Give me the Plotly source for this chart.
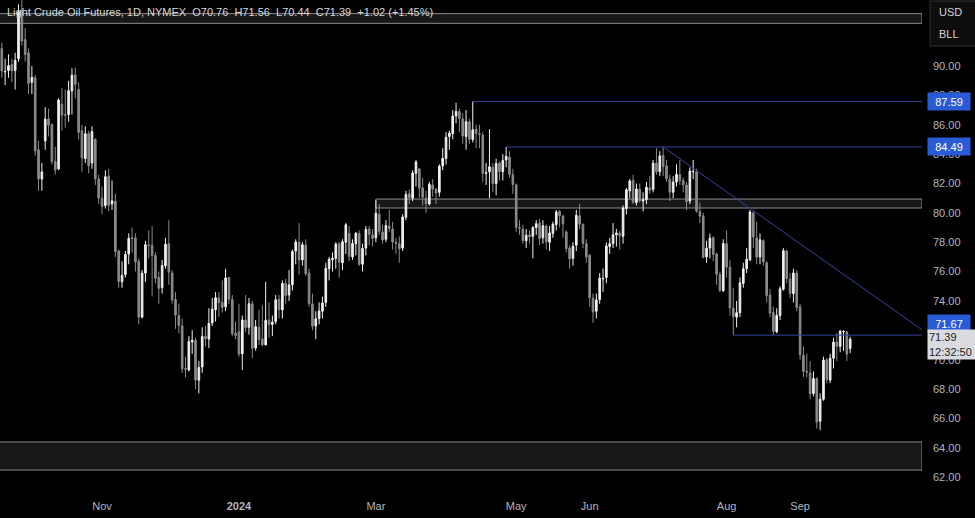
import pandas as pd
import plotly.graph_objects as go

# ---------------- data ----------------
holidays = ["2023-11-23", "2023-12-25", "2024-01-01", "2024-01-15", "2024-02-19",
            "2024-03-29", "2024-05-27", "2024-06-19", "2024-07-04", "2024-09-02"]
dates = pd.bdate_range("2023-09-20", "2024-09-24", freq="C",
                       holidays=holidays).strftime("%Y-%m-%d").tolist()

open_ = [
    91.2, 89.6, 89.7, 90.1, 89.7, 90.5, 93.8, 91.8,
    90.9, 88.9, 89.2, 84.3, 82.3, 84.9, 86.4, 86.0, 83.5, 83.0, 87.4, 86.7, 86.7, 88.3, 89.4, 88.4, 85.6, 83.7, 85.4, 83.4, 85.0, 82.3,
    81.0, 80.5, 82.5, 80.6, 80.8, 77.4, 75.3, 75.8, 77.2, 78.3, 78.3, 76.7, 72.9, 75.9, 77.8, 77.8, 77.1, 75.6, 74.9, 76.4, 77.9,
    75.9, 74.1, 73.0, 72.3, 69.4, 69.3, 71.2, 71.3, 68.6, 69.5, 71.6, 71.4, 72.5, 73.4, 74.2, 73.9, 73.6, 75.6, 74.1, 71.8,
    71.9, 70.4, 72.7, 72.2, 73.8, 70.8, 72.2, 71.4, 71.0, 72.7, 72.4, 72.6, 74.1, 73.4, 75.2, 74.4, 75.1, 77.4, 78.0, 76.8, 77.8,
    75.9, 73.8, 72.3, 72.8, 73.3, 73.9, 76.2, 76.8, 76.9, 77.9, 76.6, 78.0, 78.6, 77.0, 77.9, 78.6, 76.5, 77.6, 78.9, 78.5,
    78.3, 79.9, 78.7, 78.2, 79.1, 78.9, 78.0, 77.9, 77.6, 79.7, 81.3, 81.0, 82.7, 83.0, 81.7, 81.0, 80.6, 81.9, 81.6, 81.4,
    83.2, 83.7, 85.2, 85.4, 86.6, 86.9, 86.4, 85.2, 86.2, 85.0, 85.7, 85.4, 85.3, 82.7, 82.8, 83.1, 82.0, 83.4, 82.8, 83.6, 83.8, 82.6,
    81.9, 79.0, 78.9, 78.1, 78.5, 78.4, 79.0, 79.3, 78.3, 79.1, 78.0, 78.6, 79.2, 80.1, 79.8, 78.7, 77.6, 76.9, 77.8, 79.8, 79.2, 77.9,
    77.1, 74.2, 73.3, 74.1, 75.5, 75.6, 77.7, 77.9, 78.5, 78.6, 78.4, 80.3, 81.5, 82.2, 80.7, 81.6, 80.8, 80.9, 81.7,
    81.6, 83.4, 82.8, 83.9, 83.2, 82.3, 81.4, 82.1, 82.6, 82.2, 81.9, 80.8, 82.8, 82.8, 80.1, 79.8, 77.0, 77.6, 78.3, 77.2, 75.8, 74.7,
    77.9, 76.3, 73.5, 72.9, 73.2, 75.2, 76.2, 76.8, 80.0, 78.3, 77.0, 78.1, 76.6, 74.4, 73.2, 71.9, 73.0, 74.8, 77.4, 75.5, 74.5, 75.9,
    73.6, 70.3, 69.2, 69.1, 67.7, 68.7, 65.8, 67.3, 70.0, 68.6, 70.1, 71.2, 70.9, 71.9, 71.9, 70.76,
]
high = [
    91.6, 90.5, 90.8, 90.5, 90.9, 94.2, 95.0, 92.6,
    91.2, 90.0, 89.4, 84.9, 83.4, 87.2, 87.1, 86.1, 84.5, 87.8, 88.5, 88.4, 89.0, 89.85, 89.9, 88.9, 86.0, 85.9, 85.6, 85.9, 85.1, 82.6,
    81.8, 82.9, 83.0, 82.2, 81.3, 77.5, 76.7, 77.4, 78.6, 79.0, 78.6, 76.9, 76.1, 78.1, 78.8, 79.1, 77.3, 76.0, 76.8, 78.3, 79.5,
    76.1, 74.6, 73.8, 72.8, 70.2, 71.6, 72.0, 71.5, 69.9, 72.2, 72.3, 73.5, 74.2, 74.6, 74.6, 75.4, 76.2, 75.6, 74.4, 72.6,
    73.8, 73.0, 74.4, 74.2, 74.0, 72.7, 73.4, 73.7, 75.3, 73.9, 73.0, 74.4, 74.4, 75.4, 75.5, 76.1, 77.5, 78.2, 79.3, 78.0, 78.2,
    76.2, 74.5, 73.3, 73.9, 74.3, 76.6, 77.0, 77.3, 78.0, 78.0, 78.2, 79.3, 79.1, 78.2, 78.7, 78.8, 77.9, 79.1, 79.1, 78.9,
    80.85, 80.6, 79.2, 79.5, 80.2, 79.4, 78.3, 78.4, 79.9, 81.5, 81.6, 82.9, 83.6, 83.0, 82.4, 81.5, 82.1, 82.3, 81.7, 83.3,
    84.4, 85.5, 85.6, 87.0, 87.5, 87.1, 86.8, 87.0, 86.4, 87.59, 86.0, 86.0, 85.5, 83.4, 85.7, 83.4, 83.7, 83.5, 84.0, 84.49, 84.2, 83.0,
    82.0, 79.5, 79.2, 78.9, 78.8, 79.1, 79.5, 79.6, 79.5, 79.2, 79.1, 79.4, 80.2, 80.2, 79.8, 78.8, 77.8, 78.0, 80.2, 80.6, 79.3, 78.2,
    77.2, 74.5, 74.5, 75.9, 76.2, 78.0, 78.3, 79.3, 78.9, 78.8, 80.5, 81.7, 82.3, 82.6, 82.0, 82.0, 81.4, 82.1, 82.5,
    83.6, 84.4, 84.2, 84.49, 83.6, 82.6, 82.5, 83.3, 83.6, 82.4, 82.1, 83.1, 83.6, 83.0, 80.7, 80.0, 78.1, 78.6, 78.4, 77.3, 76.0, 78.2,
    78.8, 76.8, 74.9, 74.0, 75.6, 76.6, 77.6, 80.2, 80.1, 79.4, 78.6, 78.2, 76.7, 74.8, 73.6, 73.5, 75.0, 77.6, 77.5, 75.9, 76.2, 76.1,
    73.8, 70.9, 70.4, 69.9, 69.2, 68.8, 67.7, 70.2, 70.1, 70.4, 71.5, 71.8, 72.0, 72.0, 71.9, 71.56,
]
low = [
    89.2, 88.7, 89.2, 88.9, 88.4, 90.3, 91.4, 90.3,
    88.1, 88.1, 83.9, 81.5, 81.5, 84.3, 85.2, 83.3, 82.6, 82.9, 85.6, 85.8, 86.2, 86.7, 87.8, 85.0, 82.8, 83.4, 82.7, 83.0, 81.9, 80.6,
    79.9, 80.3, 80.1, 80.2, 77.0, 74.9, 74.9, 75.6, 76.5, 77.3, 76.0, 72.4, 72.8, 75.3, 76.9, 74.3, 75.2, 73.8, 74.5, 76.2, 75.1,
    73.8, 72.1, 71.8, 69.1, 68.8, 69.2, 70.4, 68.0, 67.7, 69.1, 70.9, 70.8, 72.3, 72.6, 72.9, 73.2, 73.3, 73.8, 71.6, 71.4,
    70.2, 69.3, 71.9, 71.7, 70.1, 70.6, 71.0, 70.9, 71.0, 71.5, 71.6, 72.4, 72.8, 72.8, 73.8, 74.0, 74.7, 76.5, 75.8, 76.4, 75.7,
    73.6, 72.0, 71.4, 72.4, 72.8, 73.6, 75.4, 76.0, 76.2, 75.6, 76.1, 77.2, 76.7, 76.8, 77.1, 76.4, 76.0, 77.1, 77.8, 77.7,
    78.0, 78.5, 77.9, 78.0, 78.7, 77.5, 77.2, 76.6, 77.4, 79.5, 80.6, 80.8, 81.8, 81.0, 80.5, 80.0, 80.5, 81.1, 80.6, 81.1,
    82.9, 83.3, 84.3, 85.0, 86.1, 85.5, 84.7, 84.3, 84.7, 84.8, 84.4, 84.4, 82.1, 81.9, 81.0, 81.4, 81.2, 82.2, 82.2, 83.1, 82.4, 81.3,
    78.7, 78.5, 77.9, 77.6, 77.9, 76.9, 78.5, 77.8, 77.9, 77.5, 77.4, 78.3, 78.8, 79.0, 78.3, 77.3, 76.2, 76.4, 77.4, 78.9, 77.6, 76.6,
    73.6, 72.5, 72.8, 73.8, 74.6, 75.2, 77.2, 77.6, 77.7, 77.5, 77.9, 79.9, 81.0, 80.6, 80.5, 80.7, 80.1, 80.6, 81.3,
    81.4, 82.6, 82.5, 82.5, 82.1, 80.8, 81.0, 81.8, 81.9, 81.4, 80.2, 80.6, 82.3, 80.0, 79.3, 76.9, 76.6, 76.9, 76.7, 75.1, 74.6, 74.6,
    75.6, 73.0, 71.67, 72.2, 72.9, 74.9, 75.9, 76.7, 77.6, 76.5, 76.5, 76.4, 73.9, 72.9, 71.7, 71.8, 72.7, 74.7, 75.2, 74.2, 73.9, 73.3,
    70.0, 68.8, 68.8, 67.3, 67.5, 65.3, 65.2, 67.2, 68.4, 68.4, 69.4, 69.9, 70.5, 70.6, 69.9, 70.44,
]
close = [
    89.66, 89.63, 90.03, 89.68, 90.39, 93.68, 91.71, 90.79,
    88.82, 89.23, 84.22, 82.31, 82.79, 86.38, 85.97, 83.49, 82.91, 87.69, 86.66, 86.66, 88.32, 89.37, 88.75, 85.49, 83.74, 85.39, 83.21, 85.54, 82.31, 81.02,
    80.44, 82.46, 80.51, 80.82, 77.37, 75.33, 75.74, 77.17, 78.26, 78.26, 76.66, 72.90, 75.89, 77.83, 77.77, 77.10, 75.54, 74.86, 76.41, 77.86, 75.96,
    74.07, 73.04, 72.32, 69.38, 69.34, 71.23, 71.32, 68.61, 69.47, 71.58, 71.43, 72.47, 73.44, 74.22, 73.89, 73.56, 75.57, 74.11, 71.77, 71.65,
    70.38, 72.70, 72.19, 73.81, 70.77, 72.24, 71.37, 71.02, 72.68, 72.40, 72.56, 74.08, 73.41, 75.19, 74.37, 75.09, 77.36, 78.01, 76.78, 77.82, 75.85,
    73.82, 72.28, 72.78, 73.31, 73.86, 76.22, 76.84, 76.92, 77.87, 76.64, 78.03, 79.19, 77.04, 77.91, 78.61, 76.49, 77.58, 78.87, 78.54, 78.26,
    79.97, 78.74, 78.15, 79.13, 78.93, 78.01, 77.93, 77.56, 79.72, 81.26, 81.04, 82.72, 83.47, 81.68, 81.07, 80.63, 81.95, 81.62, 81.35, 83.17,
    83.71, 85.15, 85.43, 86.59, 86.91, 86.43, 85.23, 86.21, 85.02, 85.66, 85.41, 85.36, 82.69, 82.73, 83.14, 82.00, 83.36, 82.81, 83.57, 83.85, 82.63, 81.93,
    79.00, 78.95, 78.11, 78.48, 78.38, 78.99, 79.26, 78.26, 79.12, 78.02, 78.63, 79.23, 80.06, 79.80, 79.26, 77.57, 76.87, 77.72, 79.83, 79.23, 77.91, 76.99,
    74.22, 73.25, 74.07, 75.55, 75.53, 77.74, 77.90, 78.50, 78.62, 78.45, 80.33, 81.57, 82.17, 80.73, 81.63, 80.83, 80.90, 81.74, 81.54,
    83.38, 82.81, 83.88, 83.16, 82.33, 81.41, 82.10, 82.62, 82.21, 81.91, 80.76, 82.85, 82.82, 80.13, 79.78, 76.96, 77.59, 78.28, 77.16, 75.81, 74.73, 77.91,
    76.31, 73.52, 72.94, 73.20, 75.23, 76.19, 76.84, 80.06, 78.35, 76.98, 78.16, 76.65, 74.37, 73.17, 71.93, 73.01, 74.83, 77.42, 75.53, 74.52, 75.91, 73.55,
    70.34, 69.20, 69.15, 67.67, 68.71, 65.75, 67.31, 69.97, 68.65, 70.09, 71.19, 70.91, 71.95, 71.92, 70.37, 71.39,
]

tick_dates = ["2023-11-01", "2024-01-02", "2024-03-01", "2024-05-01", "2024-06-03", "2024-08-01", "2024-09-03"]
tick_labels = ["Nov", "<b>2024</b>", "Mar", "May", "Jun", "Aug", "Sep"]
price_ticks = [62, 64, 66, 68, 70, 72, 74, 76, 78, 80, 82, 84, 86, 88, 90]

# horizontal levels (price, start date)
level_prices = [87.59, 84.49, 71.67]
level_starts = ["2024-04-12", "2024-04-26", "2024-08-05"]
# grey zones (low, high, start date or None = from left edge)
zone_lows = [92.91, 80.33, 62.48]
zone_highs = [93.57, 80.94, 64.39]
zone_starts = [None, "2024-03-01", None]
# descending trendline anchors
trend_dates = ["2024-07-05", "2024-08-13"]
trend_prices = [84.49, 80.15]

title_text = ("Light Crude Oil Futures, 1D, NYMEX&nbsp;&nbsp;O70.76&nbsp;&nbsp;H71.56&nbsp;&nbsp;"
              "L70.44&nbsp;&nbsp;C71.39&nbsp;&nbsp;+1.02 (+1.45%)")
last_price = 71.39
countdown = "12:32:50"

# ---------------- figure ----------------
FONT = "Liberation Sans"
UP = "#f0f0f0"
DOWN = "#8a8a8a"
BLUE_LINE = "#33449e"
BLUE_BOX = "#2a5bd7"
X_RANGE = [-0.54, 275.5]
Y_RANGE = [61.12, 94.50]

pos = {d: i for i, d in enumerate(dates)}
idx = list(range(len(dates)))

fig = go.Figure(go.Candlestick(
    x=idx, open=open_, high=high, low=low, close=close,
    increasing=dict(line=dict(color=UP, width=1), fillcolor=UP),
    decreasing=dict(line=dict(color=DOWN, width=1), fillcolor=DOWN),
    whiskerwidth=0, showlegend=False, hoverinfo="skip",
))

shapes = []
for lo, hi, st in zip(zone_lows, zone_highs, zone_starts):
    x0 = X_RANGE[0] - 5 if st is None else pos[st]
    shapes.append(dict(type="rect", xref="x", yref="y", x0=x0, x1=X_RANGE[1],
                       y0=lo, y1=hi, fillcolor="rgba(255,255,255,0.09)",
                       line=dict(color="#8c8c8c", width=1), layer="below"))
for p, st in zip(level_prices, level_starts):
    shapes.append(dict(type="line", xref="x", yref="y", x0=pos[st], x1=X_RANGE[1],
                       y0=p, y1=p, line=dict(color=BLUE_LINE, width=1)))
tx0, tx1 = pos[trend_dates[0]], pos[trend_dates[1]]
slope = (trend_prices[1] - trend_prices[0]) / (tx1 - tx0)
shapes.append(dict(type="line", xref="x", yref="y", x0=tx0, y0=trend_prices[0],
                   x1=X_RANGE[1], y1=trend_prices[0] + slope * (X_RANGE[1] - tx0),
                   line=dict(color=BLUE_LINE, width=1)))
# currency box (top right)
PH = 490.0
PW = 922.0
shapes.append(dict(type="rect", xref="paper", yref="paper",
                   x0=930 / PW, x1=980 / PW, y0=1 - 46 / PH, y1=1 - 1 / PH,
                   fillcolor="#0d0d0d", line=dict(color="#2e3139", width=1)))

annotations = [
    dict(text=title_text, xref="paper", yref="paper", x=0, y=1, xanchor="left",
         yanchor="middle", xshift=5, yshift=-12, showarrow=False,
         font=dict(family=FONT, size=11, color="#d8d8d8")),
    dict(text="USD", xref="paper", yref="paper", x=937 / PW, y=1 - 12 / PH,
         xanchor="left", yanchor="middle", showarrow=False,
         font=dict(family=FONT, size=11, color="#d1d4dc")),
    dict(text="BLL", xref="paper", yref="paper", x=937 / PW, y=1 - 34 / PH,
         xanchor="left", yanchor="middle", showarrow=False,
         font=dict(family=FONT, size=11, color="#d1d4dc")),
]
label_shift = [0, 0, 12]
for p, ys in zip(level_prices, label_shift):
    annotations.append(dict(text=f"{p:.2f}", xref="paper", yref="y", x=1, y=p,
                            xanchor="left", yanchor="middle", xshift=5, yshift=ys,
                            showarrow=False, bgcolor=BLUE_BOX, width=40, height=15,
                            font=dict(family=FONT, size=11, color="#ffffff")))
annotations.append(dict(text=f"{last_price:.2f}<br>{countdown}", xref="paper", yref="y",
                        x=1, y=last_price, xanchor="left", yanchor="middle", xshift=5,
                        yshift=-5, showarrow=False, bgcolor="#d9dbe0", width=48, height=27,
                        align="left", font=dict(family=FONT, size=11, color="#1e1e1e")))

fig.update_layout(
    width=975, height=518,
    margin=dict(l=0, r=53, t=0, b=28),
    paper_bgcolor="#000000", plot_bgcolor="#000000",
    shapes=shapes, annotations=annotations, showlegend=False,
    xaxis=dict(range=X_RANGE, rangeslider=dict(visible=False), showgrid=False,
               zeroline=False, showline=False, ticks="",
               tickvals=[pos[d] for d in tick_dates], ticktext=tick_labels,
               tickfont=dict(family=FONT, size=11, color="#b2b5be"),
               ticklabelstandoff=8),
    yaxis=dict(range=Y_RANGE, side="right", showgrid=False, zeroline=False,
               showline=False, ticks="", tickvals=price_ticks, tickformat=".2f",
               tickfont=dict(family=FONT, size=11, color="#b2b5be"),
               ticklabelstandoff=10),
)

fig.write_html("out.html", config={"displayModeBar": False},
               post_script="document.body.style.margin='0';document.body.style.overflow='hidden';")
